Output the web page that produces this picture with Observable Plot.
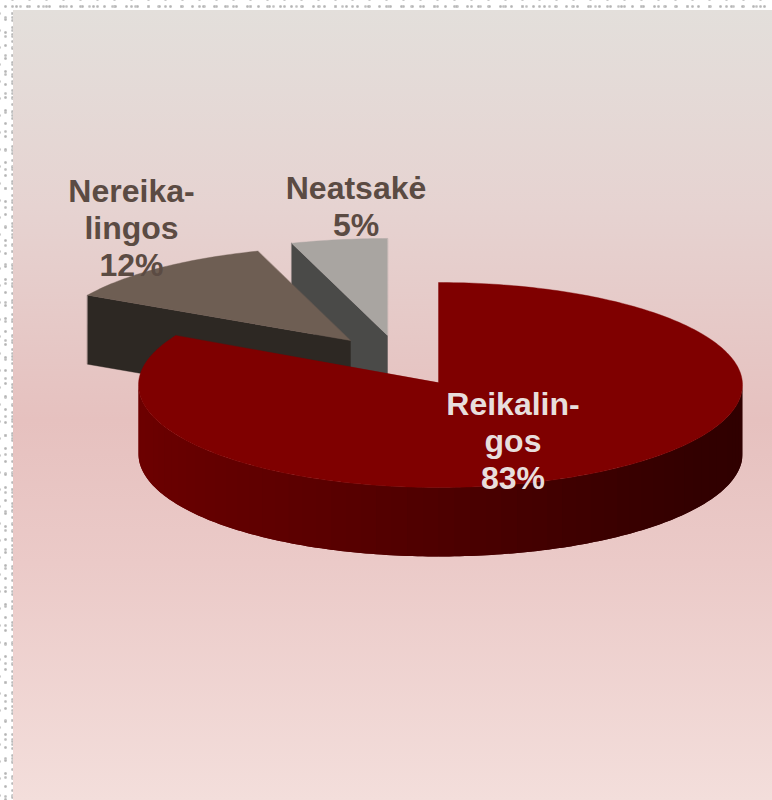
<!DOCTYPE html>
<html><head><meta charset="utf-8">
<script src="https://cdn.jsdelivr.net/npm/d3@7"></script>
<script src="https://cdn.jsdelivr.net/npm/@observablehq/plot@0.6"></script>
<style>
html,body{margin:0;padding:0;width:772px;height:800px;overflow:hidden;background:#fff}
#frame{position:absolute;left:0;top:0;width:772px;height:800px;
background-image:
radial-gradient(circle at 50% 50%,#b4b4b4 0,#c4c4c4 1px,transparent 1.9px),
radial-gradient(circle at 50% 50%,#b8b8b8 0,#c8c8c8 1px,transparent 1.9px),
radial-gradient(circle at 50% 50%,#bcbcbc 0,#cccccc 1px,transparent 1.9px),
radial-gradient(circle at 50% 50%,#c0c0c0 0,#d0d0d0 1px,transparent 1.9px),
radial-gradient(circle at 50% 50%,#bcbcbc 0,#cccccc 1px,transparent 1.9px);
background-size:11px 13px,17px 7px,7px 19px,23px 11px,13px 17px;
background-position:0 0,4px 3px,2px 8px,9px 1px,6px 5px}
#panel{position:absolute;left:13px;top:10px;right:0;bottom:0;
background:linear-gradient(180deg,#e3dfdb 0%,#e6d3d1 25%,#e6c1bf 52%,#ebcac8 70%,#f3dedb 100%)}
#chart{position:absolute;left:0;top:0}
</style></head><body>
<div id="frame"></div><div id="panel"></div><div id="chart"></div>
<script>
// Data
const categories = ["Reikalingos", "Nereikalingos", "Neatsakė"];
const shares = [83, 12, 5];
const labels = ["Reikalin-\ngos\n83%", "Nereika-\nlingos\n12%", "Neatsakė\n5%"];

// Styles
const topColors = ["#7f0000", "#6e5e53", "#a9a5a1"];
const faceColors = [null, "#2d2823", "#4a4a48"];
const labelColors = ["#e8dedc", "#5b4b43", "#5b4b43"];
const wallStops = ["#300000", "#300000", "#3c0000", "#4e0000", "#5e0000", "#680000", "#6e0000"];

// Layout: pie units, one unit = 302 px of the plot
const UNIT = 302, W = 772, H = 800, AX = 438, AY = 382;
const u = v => v / UNIT;
const apexX = [0, u(-88), u(-51)];
const apexY = [0, u(42), u(47)];
const centreDy = [u(-2.5), 0, 0];
const radiusLeft = [u(300), u(300), u(310)];
const radiusRight = [u(304), u(300), u(310)];
const radiusV = [u(102.5), u(94), u(97)];
const depth = u(69);
const labelX = [u(74.5), u(-307), u(-82.5)];
const labelY = [u(-58), u(155), u(177)];

const starts = d3.cumsum([0, ...shares.slice(0, -1)]);
const total = d3.sum(shares);
const rim = (i, a) => ({
  x: apexX[i] + (Math.sin(a) >= 0 ? radiusRight[i] : radiusLeft[i]) * Math.sin(a),
  y: apexY[i] + centreDy[i] + radiusV[i] * Math.cos(a)
});
const angle = p => p / total * 2 * Math.PI;

// Top surface of each slice
const tops = shares.map((s, i) => {
  const a0 = angle(starts[i]), a1 = angle(starts[i] + s);
  const n = Math.max(2, Math.ceil((a1 - a0) * 60));
  const pts = [{x: apexX[i], y: apexY[i], slice: i}];
  for (let k = 0; k <= n; k++) pts.push({...rim(i, a0 + (a1 - a0) * k / n), slice: i});
  return pts;
});

// Cut face seen at each slice's leading radius
const face = i => {
  const r = rim(i, angle(starts[i]));
  return [
    {x: r.x, y: r.y}, {x: apexX[i], y: apexY[i]},
    {x: apexX[i], y: apexY[i] - depth}, {x: r.x, y: r.y - depth}
  ];
};

// Outer wall of the main slice: each band also runs under the next one, so no seams show
const wallColor = d3.interpolateRgbBasis(wallStops);
const wall = [];
const steps = 60, fine = 3;
for (let k = 0; k < steps; k++) {
  const c = wallColor((k + .5) / steps);
  const end = Math.min(steps * fine, (k + 2) * fine);
  const lower = [], upper = [];
  for (let j = k * fine; j <= end; j++) {
    const p = rim(0, Math.PI / 2 + Math.PI * j / (steps * fine));
    lower.push({x: p.x, y: p.y - depth, k, c});
    upper.unshift({x: p.x, y: p.y, k, c});
  }
  wall.push(...lower, ...upper);
}

const poly = (data, fill) => Plot.line(data, {x: "x", y: "y", fill, stroke: fill, strokeWidth: 0.4, curve: "linear-closed"});

const plot = Plot.plot({
  width: W, height: H,
  marginTop: 0, marginRight: 0, marginBottom: 0, marginLeft: 0,
  style: {background: "transparent"},
  x: {domain: [u(-AX), u(W - AX)], range: [0, W], axis: null},
  y: {domain: [u(AY), u(AY - H)], range: [0, H], axis: null},
  color: {type: "identity"},
  marks: [
    poly(face(2), faceColors[2]),
    poly(tops[2], topColors[2]),
    poly(face(1), faceColors[1]),
    poly(tops[1], topColors[1]),
    Plot.line(wall, {x: "x", y: "y", z: "k", fill: "c", stroke: "none", curve: "linear-closed"}),
    poly(tops[0], topColors[0]),
    Plot.text(categories.map((c, i) => i), {
      x: i => labelX[i], y: i => labelY[i], text: i => labels[i], fill: i => labelColors[i],
      fontFamily: "Liberation Sans", fontWeight: "bold", fontSize: 32, lineHeight: 1.15, textAnchor: "middle"
    })
  ]
});
document.getElementById("chart").append(plot);
</script></body></html>
